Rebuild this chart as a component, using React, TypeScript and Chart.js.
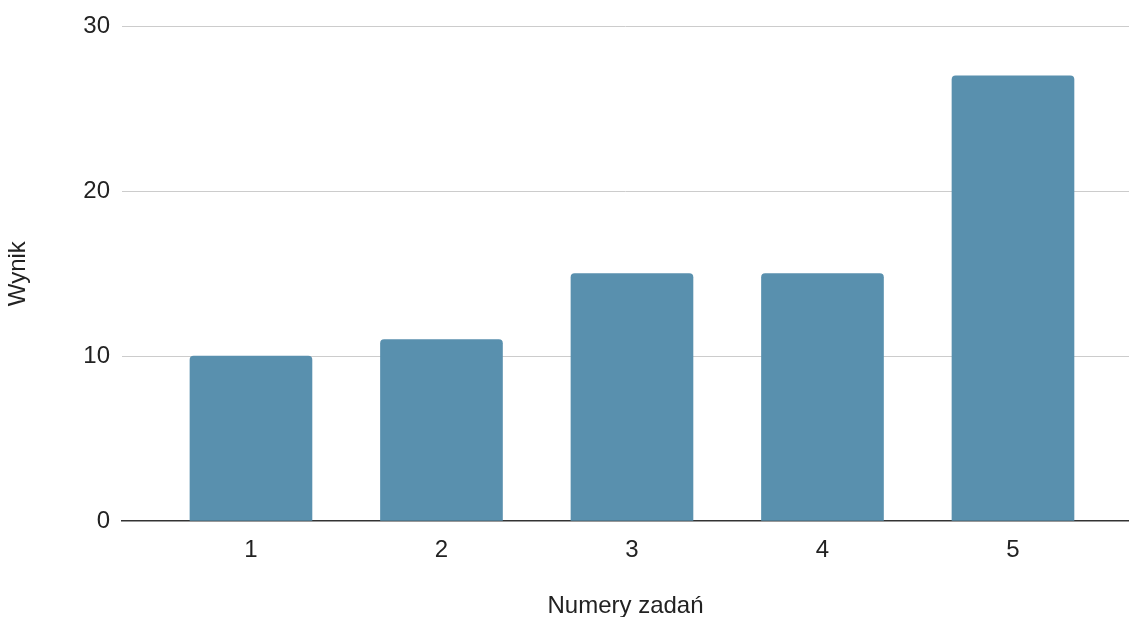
import React, { useEffect, useRef } from "react";
import { Chart, registerables } from "chart.js";

Chart.register(...registerables);

const categories = ["1", "2", "3", "4", "5"];
const values = [10, 11, 15, 15, 27];
const yTicks = [0, 10, 20, 30];
const xTitle = "Numery zadań";
const yTitle = "Wynik";

const FONT = '"Liberation Sans", Arial, sans-serif';

export default function App() {
  const ref = useRef<HTMLCanvasElement | null>(null);

  useEffect(() => {
    const canvas = ref.current;
    if (!canvas) return;
    const chart = new Chart(canvas, {
      type: "bar",
      data: {
        datasets: [
          {
            data: categories.map((_, i) => ({ x: i + 1, y: values[i] })),
            backgroundColor: "#5990ae",
            borderRadius: { topLeft: 4, topRight: 4, bottomLeft: 0, bottomRight: 0 },
            borderSkipped: "bottom",
            barThickness: 122,
          },
        ],
      },
      options: {
        animation: false,
        responsive: true,
        maintainAspectRatio: false,
        layout: { autoPadding: false, padding: { top: 24, right: 0, left: 0, bottom: 0 } },
        plugins: { legend: { display: false }, tooltip: { enabled: false } },
        scales: {
          x: {
            type: "linear",
            offset: false,
            min: 0.323,
            max: 5.609,
            grid: { display: false, drawTicks: false, offset: false },
            border: { display: true, color: "#333333", width: 1.5 },
            afterBuildTicks: (scale: any) => {
              scale.ticks = categories.map((_, i) => ({ value: i + 1 }));
            },
            afterFit: (scale: any) => {
              scale.height = 96;
            },
            ticks: {
              padding: 15,
              color: "#222222",
              font: { family: FONT, size: 24 },
              callback: (v: any) => {
                const idx = Math.round(Number(v)) - 1;
                return categories[idx] ?? "";
              },
            },
            title: {
              display: true,
              text: xTitle,
              color: "#222222",
              font: { family: FONT, size: 24, lineHeight: 0.9 },
              padding: { top: 0, bottom: 0 },
            },
          },
          y: {
            min: 0,
            max: 30,
            afterBuildTicks: (scale: any) => {
              scale.ticks = yTicks.map((v) => ({ value: v }));
            },
            afterFit: (scale: any) => {
              scale.width = 122;
            },
            grid: {
              drawTicks: false,
              color: (ctx: any) => (ctx.tick && ctx.tick.value === 0 ? "rgba(0,0,0,0)" : "#cccccc"),
              lineWidth: 1,
            },
            border: { display: false },
            ticks: {
              padding: 12,
              color: "#222222",
              font: { family: FONT, size: 24 },
            },
            title: {
              display: true,
              text: yTitle,
              color: "#222222",
              font: { family: FONT, size: 24, lineHeight: 1.2 },
              padding: { top: 4, bottom: 0 },
            },
          },
        },
      },
    });
    return () => chart.destroy();
  }, []);

  return (
    <div style={{ position: "absolute", left: 0, top: 0, width: 1129, height: 617, background: "#fff" }}>
      <canvas ref={ref} />
    </div>
  );
}
